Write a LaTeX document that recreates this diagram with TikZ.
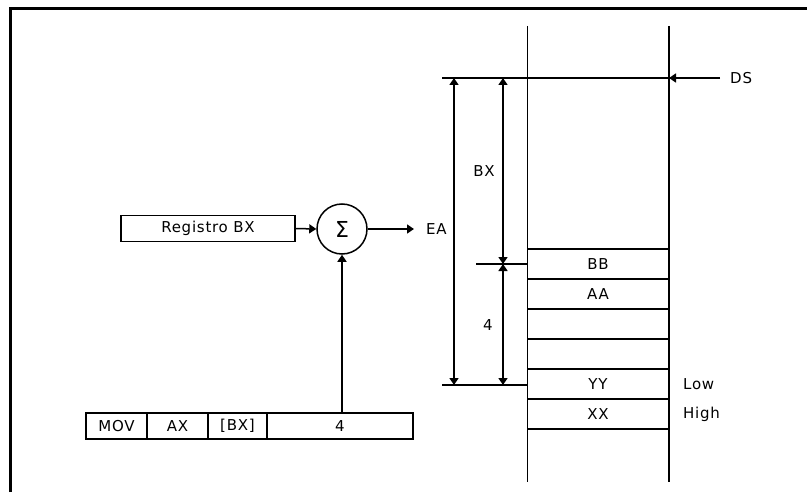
\documentclass[tikz,border=0pt]{standalone}
\usepackage{fontspec}
\setmainfont{DejaVu Sans}[LetterSpace=5]
\newfontfamily\sigmafont{DejaVu Sans}
\usetikzlibrary{arrows.meta}
\tikzset{
  lbl/.style={inner sep=0pt, font=\fontsize{15}{17}\selectfont},
  ln/.style={line width=1.5pt},
  tip/.style={-{Triangle[length=7pt,width=9pt]}},
  dbl/.style={{Triangle[length=7pt,width=9pt]}-{Triangle[length=7pt,width=9pt]}},
  cellbox/.style={draw, line width=1.5pt, minimum height=26pt, inner sep=0pt, font=\fontsize{15}{17}\selectfont},
  frame/.style={line width=3pt}
}
\begin{document}
\begin{tikzpicture}[x=1pt,y=-1pt]
\useasboundingbox (0,0) rectangle (807,495);
% frame
\draw[frame] (10,492) -- (10,9) -- (807,9);

% memory columns
\coordinate (cl1) at (527.5,26);
\coordinate (cl2) at (527.5,482);
\coordinate (cr1) at (669,26);
\coordinate (cr2) at (669,482);
\draw[ln] (cl1) -- (cl2);
\draw[ln] (cr1) -- (cr2);
\foreach \y in {249,279,309,339,369,399,429}
  \draw[ln] (527.5,\y) -- (669,\y);
% DS line
\coordinate (dsl) at (442,78);
\coordinate (dsr) at (669,78);
\draw[ln] (dsl) -- (dsr);
\node[lbl, anchor=west, inner xsep=10pt] (ds) at (720,78) {DS};
\draw[ln,tip] (ds.west) -- (dsr);

% cell labels
\node[lbl] (bb) at (598,264) {BB};
\node[lbl] (aa) at (598,294) {AA};
\node[lbl] (yy) at (598,384) {YY};
\node[lbl] (xx) at (598,414) {XX};
\node[lbl, anchor=west] (low) at (683,384) {Low};
\node[lbl, anchor=west] (high) at (683,414) {High};

% dimension lines
\coordinate (midl) at (476,264);
\coordinate (midr) at (527.5,264);
\coordinate (botl) at (442,385);
\coordinate (botr) at (527.5,385);
\draw[ln] (midl) -- (midr);
\draw[ln] (botl) -- (botr);
\coordinate (a1) at (454,78);
\coordinate (a2) at (454,385);
\coordinate (b1) at (503,78);
\coordinate (b2) at (503,264);
\coordinate (b3) at (503,385);
\draw[ln,dbl] (a1) -- (a2);
\draw[ln,dbl] (b1) -- (b2);
\draw[ln,dbl] (b2) -- (b3);
\node[lbl] (bxl) at (484,171) {BX};
\node[lbl] (four) at (488,325) {4};

% left part
\node[cellbox, minimum width=174pt] (reg) at (208,228.5) {Registro BX};
\node[draw, ln, circle, minimum size=50pt, inner sep=0pt] (sum) at (342,229)
  {\sigmafont\fontsize{22}{24}\selectfont Σ};
\node[lbl, anchor=west, inner xsep=12pt] (ea) at (414,229) {EA};
\draw[ln,tip] (reg.east) -- (sum.west);
\draw[ln,tip] (sum.east) -- (ea.west);

% instruction
\node[cellbox, minimum width=61pt] (mov) at (116.5,426) {MOV};
\node[cellbox, minimum width=61pt] (ax) at (177.5,426) {AX};
\node[cellbox, minimum width=59pt] (ibx) at (237.5,426) {[BX]};
\node[cellbox, minimum width=146pt] (disp) at (340,426) {4};
\coordinate (dtop) at (342,413);
\draw[ln,tip] (dtop) -- (sum.south);
\end{tikzpicture}
\end{document}
